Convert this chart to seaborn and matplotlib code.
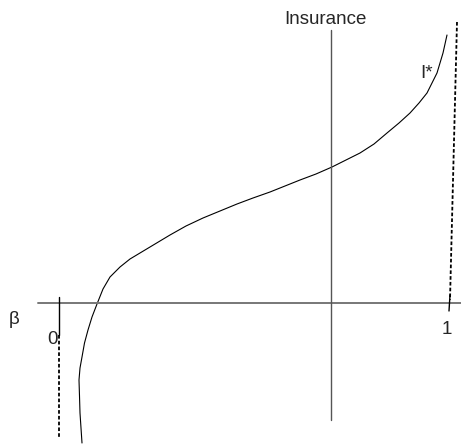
import matplotlib
matplotlib.use("Agg")
import matplotlib.pyplot as plt
import seaborn as sns
import pandas as pd

# curve I*(beta) in pixel coordinates (y grows downward)
curve_x = [82, 81, 80, 79.5, 79, 80, 82, 84.5, 88, 92, 97, 103, 110, 120, 130, 140,
           155, 170, 186, 203, 220, 237, 253, 270, 285, 300, 316, 332, 346, 360,
           374, 387, 399, 410, 419, 427, 432, 437, 440, 443, 445, 447]
curve_y = [443, 428, 413, 396, 380, 368, 357, 343, 330, 317, 304, 289, 277, 267, 259, 253,
           244, 235, 226, 218, 211, 204, 198, 192, 186, 180, 174, 167, 160, 153,
           144, 133, 123, 113, 103, 93, 83, 73, 63, 53, 44, 35]

labels = ["Insurance", "I*", "β", "0", "1"]
label_x = [325, 427, 14, 52, 447]
label_y = [19, 73, 320, 339, 330]

sns.set_style("white")
plt.rcParams["font.family"] = ["Liberation Sans", "DejaVu Sans"]

fig = plt.figure(figsize=(4.61, 4.45), dpi=100)
ax = fig.add_axes([0, 0, 1, 1])

df = pd.DataFrame({"x": curve_x, "y": curve_y})
sns.lineplot(data=df, x="x", y="y", sort=False, estimator=None,
             color="black", linewidth=0.8, ax=ax)

# axes
ax.plot([38, 461], [303, 303], color="#777777", linewidth=1.4)
ax.plot([331, 331], [30, 420], color="#555555", linewidth=1.0)

# bounds at beta = 0 and beta = 1
ax.plot([59, 59], [297, 335], color="black", linewidth=1.0)
ax.plot([59, 59], [335, 438], color="black", linewidth=1.3, linestyle=(0, (2, 1.2)))
ax.plot([457, 450], [22, 300], color="black", linewidth=1.3, linestyle=(0, (2, 1.2)))
ax.plot([450, 449], [295, 311], color="black", linewidth=1.0)

for t, x, y in zip(labels, label_x, label_y):
    ax.text(x, y, t, fontsize=13.5, ha="center", va="center")

ax.set_xlim(0, 461)
ax.set_ylim(445, 0)
ax.set_axis_off()

fig.savefig("out.png", dpi=100)
